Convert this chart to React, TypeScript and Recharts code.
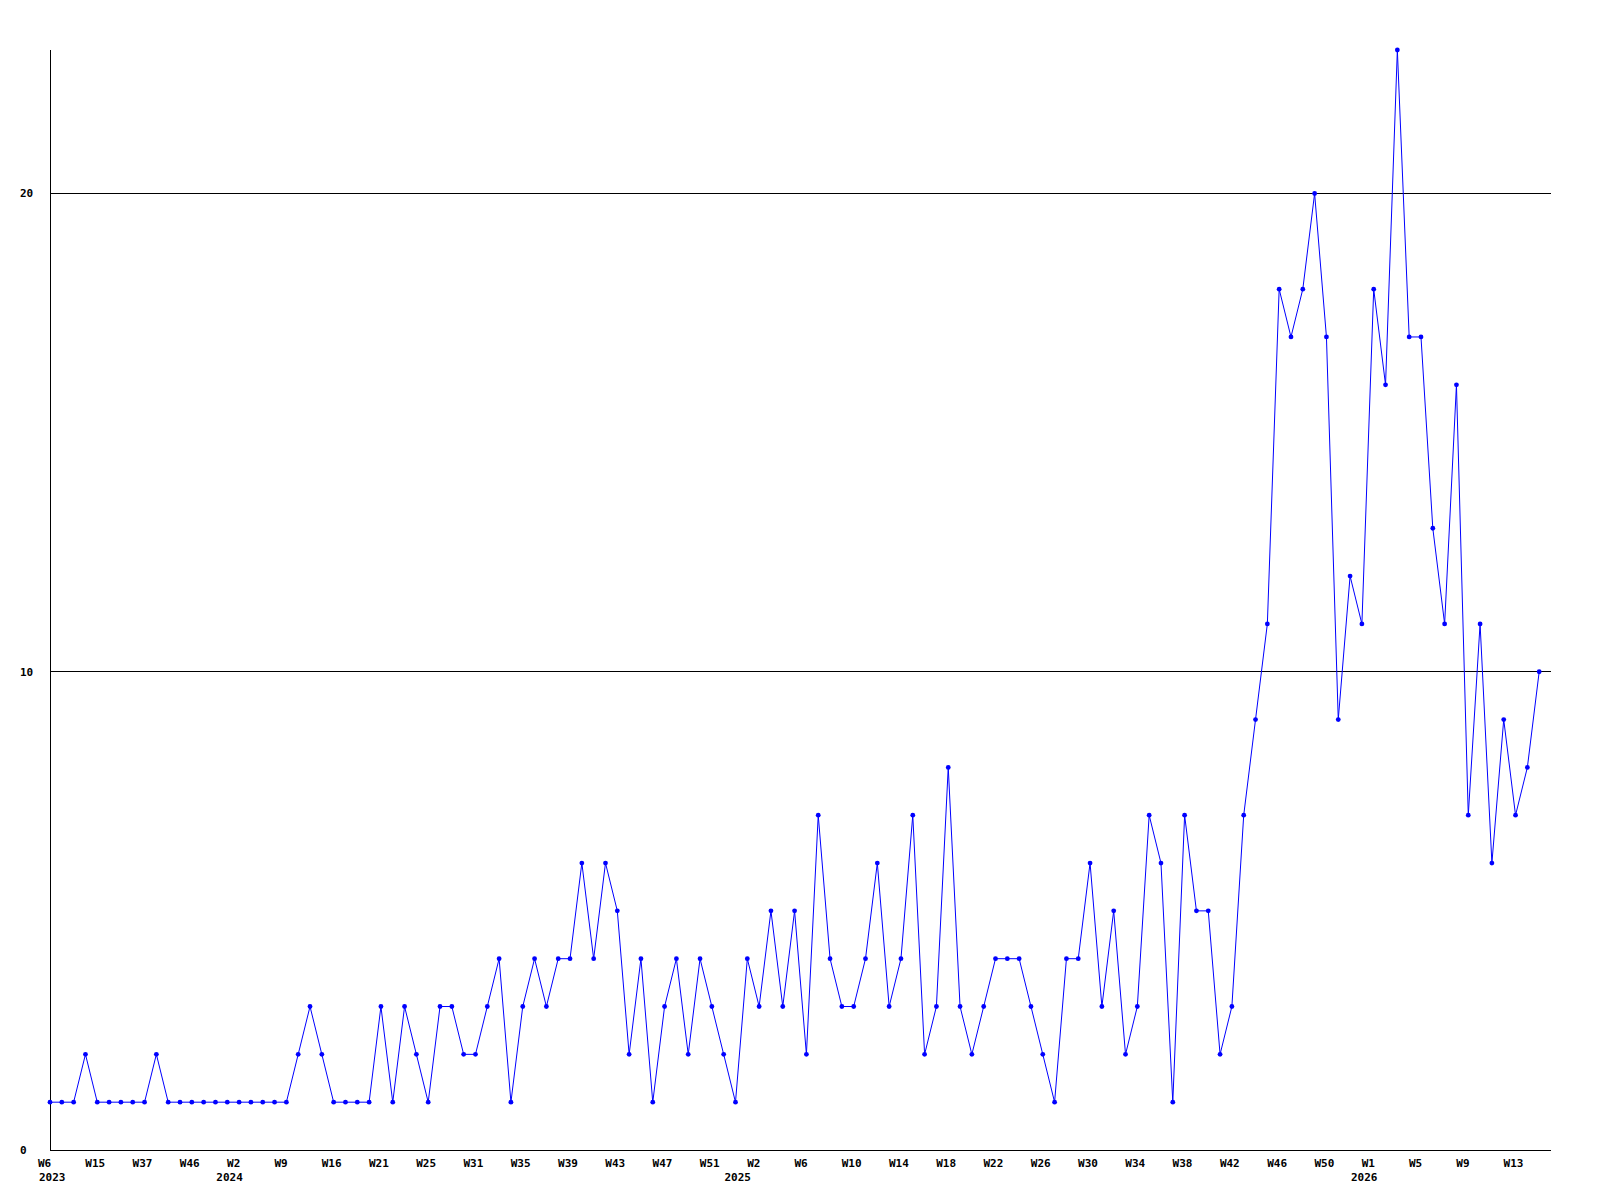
import React from 'react';
import { LineChart, Line, XAxis, YAxis, ReferenceLine } from 'recharts';

// weekly counts, only weeks that had at least one entry
const weeks2023 = ['W6', 'W8', 'W10', 'W12', 'W15', 'W20', 'W26', 'W31', 'W37', 'W39', 'W41', 'W44', 'W46', 'W48', 'W50'];
const weeks2024 = [
  'W0', 'W2', 'W4', 'W6', 'W7', 'W9', 'W10', 'W12', 'W14', 'W16', 'W17', 'W19', 'W20', 'W21', 'W22',
  'W23', 'W24', 'W25', 'W27', 'W28', 'W30', 'W31', 'W32', 'W33', 'W34', 'W35', 'W36', 'W37', 'W38',
  'W39', 'W40', 'W41', 'W42', 'W43', 'W44', 'W45', 'W46', 'W47', 'W48', 'W49', 'W50', 'W51', 'W52',
];
const weeks2025 = [
  'W0', 'W1', 'W2', 'W3', 'W4', 'W5', 'W6', 'W7', 'W8', 'W9', 'W10', 'W11', 'W12', 'W13', 'W14',
  'W15', 'W16', 'W17', 'W18', 'W19', 'W20', 'W21', 'W22', 'W23', 'W24', 'W25', 'W26', 'W27', 'W28',
  'W29', 'W30', 'W31', 'W32', 'W33', 'W34', 'W35', 'W36', 'W37', 'W38', 'W39', 'W40', 'W41', 'W42',
  'W43', 'W44', 'W45', 'W46', 'W47', 'W48', 'W49', 'W50', 'W51', 'W52',
];
const weeks2026 = ['W0', 'W1', 'W2', 'W3', 'W4', 'W5', 'W6', 'W7', 'W8', 'W9', 'W10', 'W11', 'W12', 'W13', 'W14', 'W15'];

const counts = [
  1, 1, 1, 2, 1, 1, 1, 1, 1, 2, 1, 1, 1, 1, 1, 1, 1, 1, 1, 1, 1,
  2, 3, 2, 1, 1, 1, 1, 3, 1, 3, 2, 1, 3, 3, 2, 2, 3, 4, 1, 3,
  4, 3, 4, 4, 6, 4, 6, 5, 2, 4, 1, 3, 4, 2, 4, 3, 2, 1, 4, 3,
  5, 3, 5, 2, 7, 4, 3, 3, 4, 6, 3, 4, 7, 2, 3, 8, 3, 2, 3, 4,
  4, 4, 3, 2, 1, 4, 4, 6, 3, 5, 2, 3, 7, 6, 1, 7, 5, 5, 2, 3,
  7, 9, 11, 18, 17, 18, 20, 17, 9, 12, 11, 18, 16, 23, 17, 17, 13, 11, 16, 7, 11, 6, 9, 7, 8, 10,
];

const yTicks = [0, 10, 20];

const byYear: [string, string[]][] = [
  ['2023', weeks2023],
  ['2024', weeks2024],
  ['2025', weeks2025],
  ['2026', weeks2026],
];

const rows = byYear
  .flatMap(([year, ws]) => ws.map(week => ({ year, week })))
  .map((r, i) => ({ ...r, idx: i, count: counts[i] }));

const allTicks = rows.map(r => r.idx);

const FONT = "'DejaVu Sans Mono', monospace";

function WeekTick(props: any) {
  const { x, y, payload } = props;
  const i = payload.value;
  const row = rows[i];
  if (!row) return null;
  const showWeek = i % 4 === 0;
  const showYear = i === 0 || rows[i - 1].year !== row.year;
  return (
    <g fontFamily={FONT} fontSize={11} fontWeight="bold" fill="#000">
      {showWeek && (
        <text x={x - 12} y={y + 16.5} textAnchor="start">{row.week}</text>
      )}
      {showYear && (
        <text x={x - 11} y={y + 30.5} textAnchor="start">{row.year}</text>
      )}
    </g>
  );
}

function CountTick(props: any) {
  const { y, payload } = props;
  return (
    <text x={20} y={y + 4} textAnchor="start" fontFamily={FONT} fontSize={11} fontWeight="bold" fill="#000">
      {payload.value}
    </text>
  );
}

function Marker(props: any) {
  const { cx, cy, index } = props;
  if (cx == null || cy == null) return <g key={index} />;
  return <circle key={index} cx={cx} cy={cy} r={2.4} fill="#0000ff" />;
}

export default function App() {
  return (
    <div style={{ position: 'absolute', left: 0, top: 0, width: 1600, height: 1200, background: '#fff' }}>
      <LineChart width={1600} height={1200} data={rows} margin={{ top: 50, right: 49, bottom: 0, left: 20 }}>
        <XAxis
          type="number"
          dataKey="idx"
          domain={[0, rows.length]}
          ticks={allTicks}
          interval={0}
          height={50}
          tickSize={0}
          tickMargin={0}
          tickLine={false}
          axisLine={{ stroke: '#000', shapeRendering: 'crispEdges' }}
          tick={<WeekTick />}
        />
        <YAxis
          domain={[0, 23]}
          ticks={yTicks}
          width={30}
          tickSize={0}
          tickLine={false}
          axisLine={{ stroke: '#000', shapeRendering: 'crispEdges' }}
          tick={<CountTick />}
        />
        {yTicks.filter(t => t > 0).map(t => (
          <ReferenceLine key={t} y={t} stroke="#000" strokeWidth={1} shapeRendering="crispEdges" />
        ))}
        <Line
          type="linear"
          dataKey="count"
          stroke="#0000ff"
          strokeWidth={1}
          dot={<Marker />}
          activeDot={false}
          isAnimationActive={false}
        />
      </LineChart>
    </div>
  );
}
